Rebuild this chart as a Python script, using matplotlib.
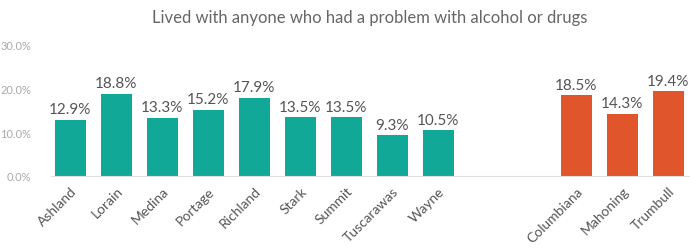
import matplotlib
matplotlib.use("Agg")
import matplotlib.pyplot as plt

# dati
counties_a = ["Ashland", "Lorain", "Medina", "Portage", "Richland", "Stark", "Summit", "Tuscarawas", "Wayne"]
values_a = [12.9, 18.8, 13.3, 15.2, 17.9, 13.5, 13.5, 9.3, 10.5]
counties_b = ["Columbiana", "Mahoning", "Trumbull"]
values_b = [18.5, 14.3, 19.4]
yticks = [0, 10, 20, 30]

plt.rcParams['font.family'] = ['Lato', 'DejaVu Sans']

fig = plt.figure(figsize=(6.9, 2.53), dpi=100)
ax = fig.add_axes([51 / 690, 1 - 177 / 253, 639 / 690, (177 - 46) / 253])

pos_a = list(range(len(counties_a)))
pos_b = [len(counties_a) + 2 + i for i in range(len(counties_b))]

bars_a = ax.bar(pos_a, values_a, width=0.68, color="#12A898")
bars_b = ax.bar(pos_b, values_b, width=0.68, color="#E0552B")

for bars, vals in ((bars_a, values_a), (bars_b, values_b)):
    for b, v in zip(bars, vals):
        ax.text(b.get_x() + b.get_width() / 2, v + 0.8, f"{v:.1f}%",
                ha="center", va="bottom", fontsize=11, color="#555555")

ax.set_xlim(-0.42, 13.47)
ax.set_ylim(0, 30)
ax.set_yticks(yticks)
ax.set_yticklabels([f"{t:.1f}%" for t in yticks], fontsize=8, color="#aaaaaa")
ax.set_xticks(pos_a + pos_b)
ax.set_xticklabels(counties_a + counties_b, rotation=45, ha="right",
                   rotation_mode="anchor", fontsize=10, color="#555555")
ax.tick_params(length=0, pad=6)
ax.tick_params(axis="y", pad=14)

for s in ("top", "right", "left"):
    ax.spines[s].set_visible(False)
ax.spines["bottom"].set_color("#e0e0e0")

fig.text(370 / 690, 1 - 18 / 253, "Lived with anyone who had a problem with alcohol or drugs",
         ha="center", va="center", fontsize=12, color="#666666")

fig.savefig("out.png", dpi=100)
